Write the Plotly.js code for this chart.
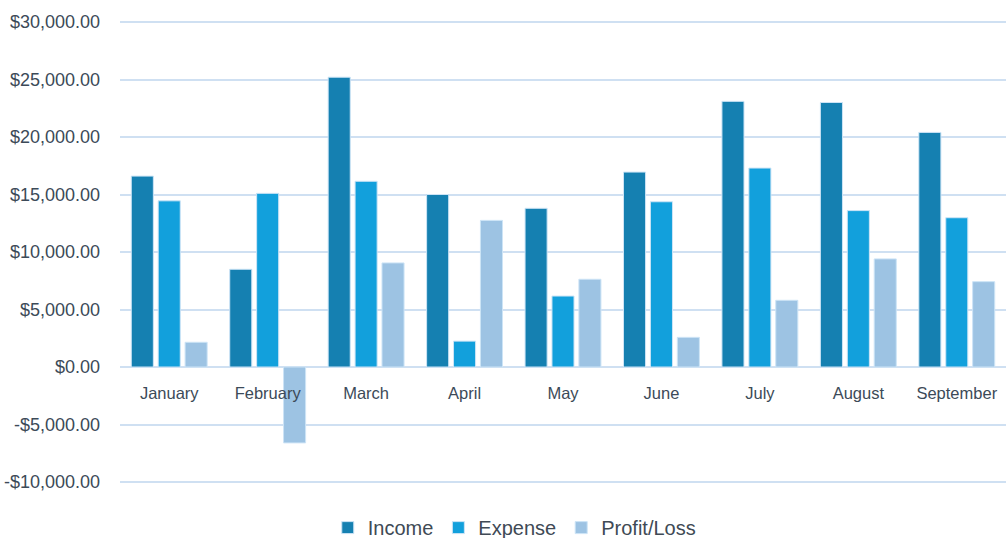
<!DOCTYPE html>
<html>
<head>
<meta charset="utf-8">
<script src="https://cdn.plot.ly/plotly-3.0.1.min.js"></script>
<style>
  html, body { margin: 0; padding: 0; background: #ffffff; }
  #chart { width: 1006px; height: 538px; }
</style>
</head>
<body>
<div id="chart"></div>
<script>
const months = ["January", "February", "March", "April", "May", "June", "July", "August", "September"];
const income = [16600, 8500, 25200, 15000, 13800, 16950, 23100, 23000, 20400];
const expense = [14450, 15100, 16150, 2250, 6170, 14370, 17300, 13600, 12980];
const profitLoss = [2150, -6600, 9050, 12750, 7630, 2580, 5800, 9400, 7420];
const yTickVals = [-10000, -5000, 0, 5000, 10000, 15000, 20000, 25000, 30000];
const yTickText = ["-$10,000.00", "-$5,000.00", "$0.00", "$5,000.00", "$10,000.00", "$15,000.00", "$20,000.00", "$25,000.00", "$30,000.00"];

const outline = { color: "rgba(205,228,246,1)", width: 1 };

const traces = [
  { type: "bar", name: "Income", x: months, y: income,
    marker: { color: "#1580b1", line: outline } },
  { type: "bar", name: "Expense", x: months, y: expense,
    marker: { color: "#12a0dc", line: outline } },
  { type: "bar", name: "Profit/Loss", x: months, y: profitLoss,
    marker: { color: "#9dc3e3", line: outline } }
];

const layout = {
  width: 1006, height: 538,
  margin: { l: 120, r: 0, t: 20, b: 54, autoexpand: false },
  paper_bgcolor: "#ffffff", plot_bgcolor: "#ffffff",
  barmode: "group", bargap: 0.18, bargroupgap: 0.18,
  showlegend: true,
  legend: {
    orientation: "h", x: 0.445, xanchor: "center", y: -0.094, yanchor: "middle",
    font: { family: "Liberation Sans, Arial, sans-serif", size: 20, color: "#404a55" },
    itemwidth: 30, traceorder: "normal"
  },
  xaxis: {
    type: "category", anchor: "free", position: 0.2521,
    showgrid: false, showline: false, zeroline: false, ticks: "",
    tickfont: { family: "Liberation Sans, Arial, sans-serif", size: 16.5, color: "#3c4a58" },
    ticklabelstandoff: 14
  },
  yaxis: {
    range: [-10174, 30174],
    tickvals: yTickVals, ticktext: yTickText,
    showgrid: true, gridcolor: "#cfe0f2", gridwidth: 2,
    zeroline: true, zerolinecolor: "#cfe0f2", zerolinewidth: 2,
    showline: false, ticks: "",
    tickfont: { family: "Liberation Sans, Arial, sans-serif", size: 18, color: "#3c4a58" },
    ticklabelstandoff: 19
  }
};

Plotly.newPlot("chart", traces, layout, { displayModeBar: false, staticPlot: true });
</script>
</body>
</html>
